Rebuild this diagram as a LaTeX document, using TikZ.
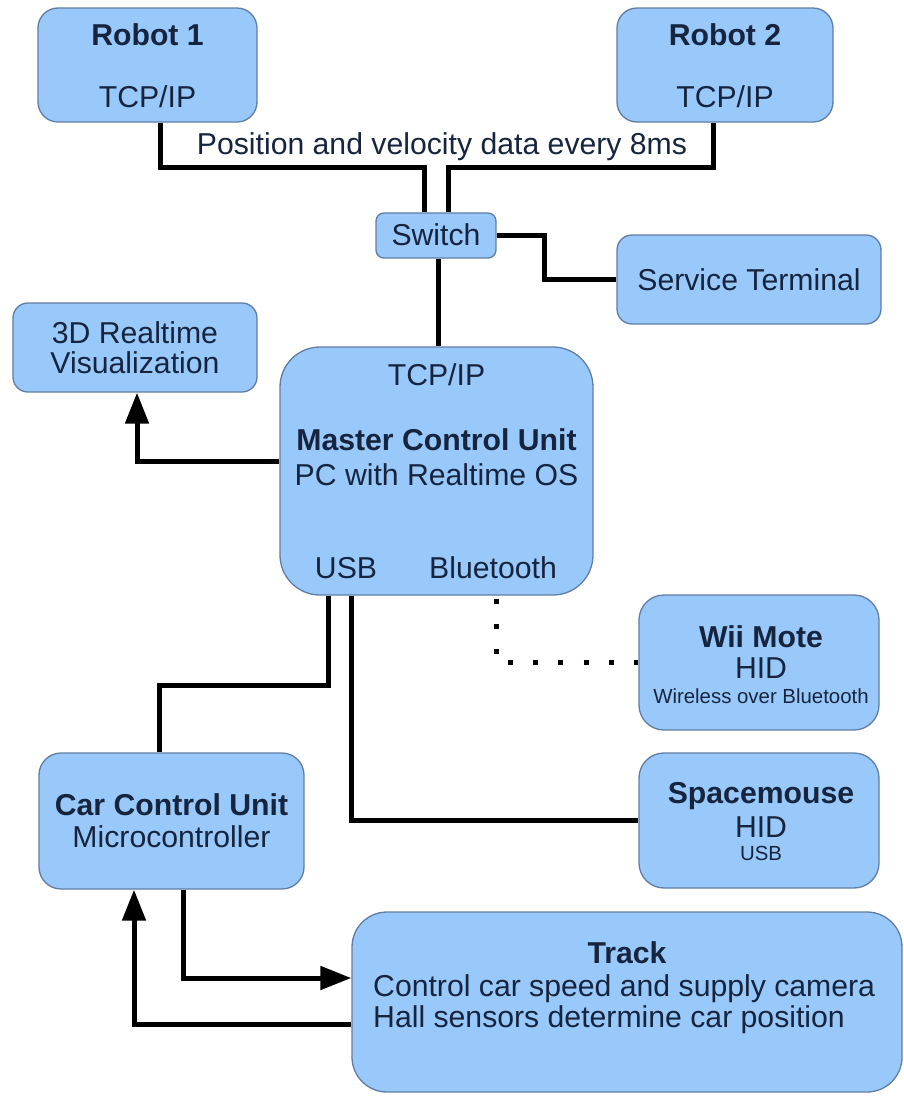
\documentclass[tikz,border=0pt]{standalone}
\usepackage{fontspec}
\setmainfont{Liberation Sans}
\usetikzlibrary{arrows.meta,calc}
\definecolor{boxc}{RGB}{153,201,250}
\definecolor{bordc}{RGB}{95,125,165}
\definecolor{txtc}{RGB}{22,36,62}
\begin{document}
\begin{tikzpicture}[x=1pt,y=-1pt,
  blk/.style={draw=bordc, fill=boxc, line width=1.3pt, rounded corners=#1, inner sep=0pt},
  txt/.style={text=txtc, font=\fontsize{30.2}{34}\selectfont, anchor=base, inner sep=0pt},
  sml/.style={text=txtc, font=\fontsize{20.4}{24}\selectfont, anchor=base, inner sep=0pt},
  conn/.style={line width=5pt, black},
  arr/.style={conn, -{Triangle[length=31pt,width=23pt]}},
  dots/.style={line width=5pt, black, dash pattern=on 5pt off 20.25pt, dash phase=22.25pt}]
\useasboundingbox (0,0) rectangle (904,1096);
% boxes
\node[blk=20pt, minimum width=219pt, minimum height=114pt] (r1) at (147.5,65) {};
\node[blk=20pt, minimum width=216pt, minimum height=114pt] (r2) at (725,65) {};
\node[blk=8pt, minimum width=120pt, minimum height=45pt] (sw) at (436,235.5) {};
\node[blk=15pt, minimum width=264pt, minimum height=89pt] (st) at (749,279.5) {};
\node[blk=15pt, minimum width=244pt, minimum height=89pt] (viz) at (135,347.5) {};
\node[blk=40pt, minimum width=313pt, minimum height=248pt] (mcu) at (436.5,471) {};
\node[blk=25pt, minimum width=240pt, minimum height=135pt] (wii) at (759,662.5) {};
\node[blk=25pt, minimum width=240pt, minimum height=135pt] (sm) at (759,820.5) {};
\node[blk=22pt, minimum width=265pt, minimum height=136pt] (ccu) at (171.5,821) {};
\node[blk=35pt, minimum width=550pt, minimum height=180pt] (trk) at (627,1002) {};
% texts
\node[txt] (r1a) at (147.5,45) {\bfseries Robot 1};
\node[txt] (r1b) at (147.5,107) {TCP/IP};
\node[txt] (r2a) at (725,45) {\bfseries Robot 2};
\node[txt] (r2b) at (725,107) {TCP/IP};
\node[txt] (lab) at (442,154) {Position and velocity data every 8ms};
\node[txt] (swt) at (436,245) {Switch};
\node[txt] (stt) at (749,290) {Service Terminal};
\node[txt] (vza) at (135,343) {3D Realtime};
\node[txt] (vzb) at (135,373) {Visualization};
\node[txt] (mca) at (436.5,385) {TCP/IP};
\node[txt] (mcb) at (436.5,450) {\bfseries Master Control Unit};
\node[txt] (mcc) at (436.5,485) {PC with Realtime OS};
\node[txt] (mcd) at (346,578) {USB};
\node[txt] (mce) at (493,578) {Bluetooth};
\node[txt] (wia) at (761,647) {\bfseries Wii Mote};
\node[txt] (wib) at (761,678) {HID};
\node[sml] (wic) at (761,703) {Wireless over Bluetooth};
\node[txt] (sma) at (761,803) {\bfseries Spacemouse};
\node[txt] (smb) at (761,837) {HID};
\node[sml] (smc) at (761,860) {USB};
\node[txt] (cca) at (171.5,815) {\bfseries Car Control Unit};
\node[txt] (ccb) at (171.5,847) {Microcontroller};
\node[txt] (tra) at (627,963) {\bfseries Track};
\node[txt, anchor=base west] (trb) at (373,996) {Control car speed and supply camera};
\node[txt, anchor=base west] (trc) at (373,1027) {Hall sensors determine car position};
% connectors
\draw[conn] ([xshift=12.5pt]r1.south) -- ++(0,45) -| ([xshift=-12pt]sw.north);
\draw[conn] ([xshift=-12pt]r2.south) -- ++(0,45) -| ([xshift=12pt]sw.north);
\draw[conn] (sw.east) -- ++(48,0) |- (st.west);
\draw[conn] ([xshift=2pt]sw.south) -- ([xshift=1.5pt]mcu.north);
\draw[arr] ([yshift=10pt]mcu.west) -| ([xshift=2pt]viz.south);
\draw[conn] ([xshift=-108.5pt]mcu.south) -- ++(0,90) -| ([xshift=-12.5pt]ccu.north);
\draw[conn] ([xshift=-85.5pt]mcu.south) |- (sm.west);
\draw[dots] ([xshift=59.5pt]mcu.south) |- (wii.west);
\draw[arr] ([xshift=11.5pt]ccu.south) |- ([yshift=24pt]trk.west);
\draw[arr] ([yshift=-22pt]trk.west) -| ([xshift=-37.5pt]ccu.south);
\end{tikzpicture}
\end{document}
